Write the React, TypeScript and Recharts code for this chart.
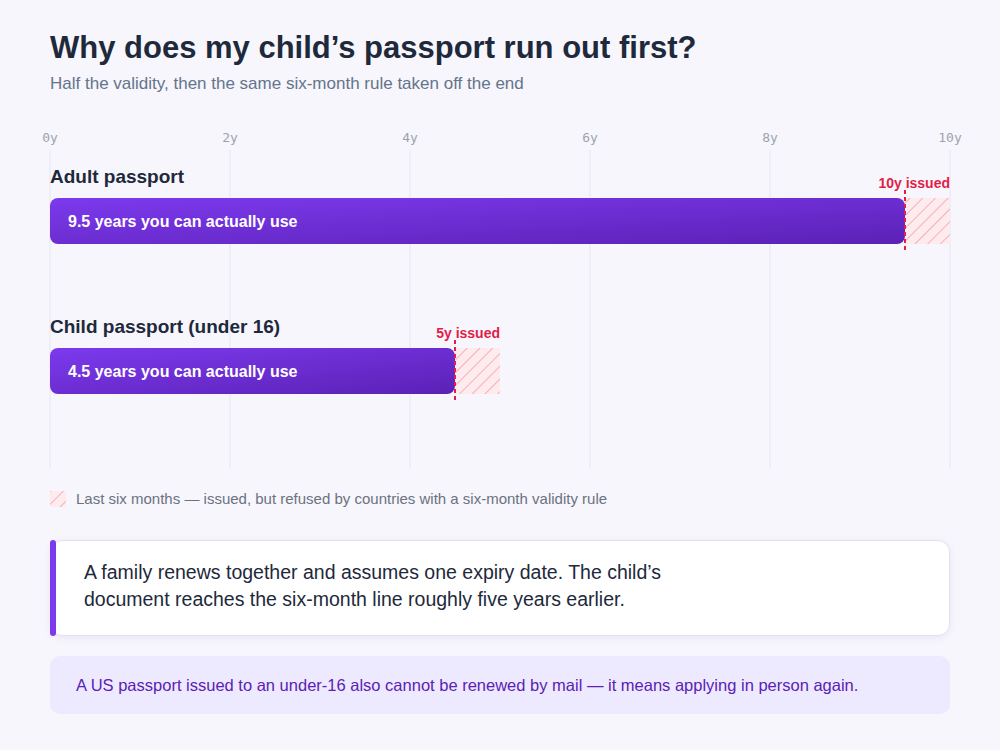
import React from 'react';
import { BarChart, Bar, XAxis, YAxis, CartesianGrid } from 'recharts';

const passports = ['Adult passport', 'Child passport (under 16)'];
const usableYears = [9.5, 4.5];
const refusedYears = [0.5, 0.5];
const usableLabels = ['9.5 years you can actually use', '4.5 years you can actually use'];
const issuedLabels = ['10y issued', '5y issued'];
const yearTicks = [0, 2, 4, 6, 8, 10];

const data = passports.map((name, i) => ({
    name,
    usable: usableYears[i],
    refused: refusedYears[i],
}));

const SANS = '"Liberation Sans", Arial, Helvetica, sans-serif';
const RED = '#e11d48';

const YearTick = (props: any) => {
    const { x, payload } = props;
    return (
        <text x={x} y={142} textAnchor="middle" fill="#9ca3af" fontSize={13} fontFamily='"DejaVu Sans Mono", monospace'>
            {payload.value}y
        </text>
    );
};

const UsableShape = (props: any) => {
    const { x, y, width, height, index } = props;
    return (
        <g>
            <text x={x} y={y - 15} fill="#1e293b" fontSize={19} fontWeight={700} fontFamily={SANS}>
                {passports[index]}
            </text>
            <rect x={x} y={y} width={width} height={height} rx={8} ry={8} fill="url(#usableFill)" />
            <text x={x + 18} y={y + height / 2} dominantBaseline="central" fill="#ffffff" fontSize={16} fontWeight={700} fontFamily={SANS}>
                {usableLabels[index]}
            </text>
        </g>
    );
};

const RefusedShape = (props: any) => {
    const { x, y, width, height, index } = props;
    return (
        <g>
            <rect x={x} y={y} width={width} height={height} fill="url(#hatch)" />
            <line x1={x} x2={x} y1={y - 8} y2={y + height + 8} stroke={RED} strokeWidth={2} strokeDasharray="4 3" />
            <text x={x + width} y={y - 10} textAnchor="end" fill={RED} fontSize={14} fontWeight={700} fontFamily={SANS}>
                {issuedLabels[index]}
            </text>
        </g>
    );
};

const App: React.FC = () => {
    React.useEffect(() => {
        document.body.style.margin = '0';
    }, []);

    return (
        <div style={{ position: 'relative', width: 1000, height: 750, background: '#f7f6fc', fontFamily: SANS, overflow: 'hidden' }}>
            <div style={{ position: 'absolute', left: 50, top: 28, fontSize: 31, fontWeight: 700, color: '#1e293b', lineHeight: '40px' }}>
                Why does my child’s passport run out first?
            </div>
            <div style={{ position: 'absolute', left: 50, top: 74, fontSize: 17, color: '#64748b', lineHeight: '20px' }}>
                Half the validity, then the same six-month rule taken off the end
            </div>

            <div style={{ position: 'absolute', left: 0, top: 0 }}>
                <BarChart
                    width={1000}
                    height={480}
                    data={data}
                    layout="vertical"
                    margin={{ top: 120, right: 50, left: 50, bottom: 12 }}
                >
                    <defs>
                        <linearGradient id="usableFill" x1="0" y1="0" x2="1" y2="1">
                            <stop offset="0%" stopColor="#7c3aed" />
                            <stop offset="100%" stopColor="#5b21b6" />
                        </linearGradient>
                        <pattern id="hatch" width="9" height="9" patternUnits="userSpaceOnUse" patternTransform="rotate(45)">
                            <rect width="9" height="9" fill="#fdebee" />
                            <line x1="0" y1="0" x2="0" y2="9" stroke="#f59aa8" strokeWidth={1.5} />
                        </pattern>
                    </defs>
                    <CartesianGrid horizontal={false} stroke="#e6e4f3" />
                    <XAxis
                        type="number"
                        orientation="top"
                        domain={[0, 10]}
                        ticks={yearTicks}
                        axisLine={false}
                        tickLine={false}
                        height={30}
                        tick={<YearTick />}
                    />
                    <YAxis type="category" dataKey="name" hide padding={{ top: -4, bottom: 22 }} />
                    <Bar dataKey="usable" stackId="a" barSize={46} shape={<UsableShape />} isAnimationActive={false} />
                    <Bar dataKey="refused" stackId="a" barSize={46} shape={<RefusedShape />} isAnimationActive={false} />
                </BarChart>
            </div>

            <div style={{ position: 'absolute', left: 50, top: 491, width: 16, height: 16 }}>
                <svg width={16} height={16}>
                    <rect width={16} height={16} fill="url(#hatch)" />
                </svg>
            </div>
            <div style={{ position: 'absolute', left: 76, top: 490, fontSize: 15, color: '#6b7280', lineHeight: '18px' }}>
                Last six months — issued, but refused by countries with a six-month validity rule
            </div>

            <div
                style={{
                    position: 'absolute',
                    left: 50,
                    top: 540,
                    width: 900,
                    height: 96,
                    boxSizing: 'border-box',
                    background: '#ffffff',
                    border: '1px solid #e4e0f4',
                    borderRadius: 12,
                    boxShadow: '0 2px 8px rgba(91, 33, 182, 0.08)',
                }}
            >
                <div style={{ position: 'absolute', left: 33, top: 18, fontSize: 19.5, color: '#1e293b', lineHeight: '27px' }}>
                    A family renews together and assumes one expiry date. The child’s
                    <br />
                    document reaches the six-month line roughly five years earlier.
                </div>
            </div>
            <div style={{ position: 'absolute', left: 50, top: 540, width: 6, height: 96, background: '#7c3aed', borderRadius: 3 }} />

            <div
                style={{
                    position: 'absolute',
                    left: 50,
                    top: 656,
                    width: 900,
                    height: 58,
                    background: '#ede9fe',
                    borderRadius: 10,
                }}
            >
                <div style={{ position: 'absolute', left: 26, top: 19, fontSize: 16.5, color: '#5b21b6', lineHeight: '20px' }}>
                    A US passport issued to an under-16 also cannot be renewed by mail — it means applying in person again.
                </div>
            </div>
        </div>
    );
};

export default App;
